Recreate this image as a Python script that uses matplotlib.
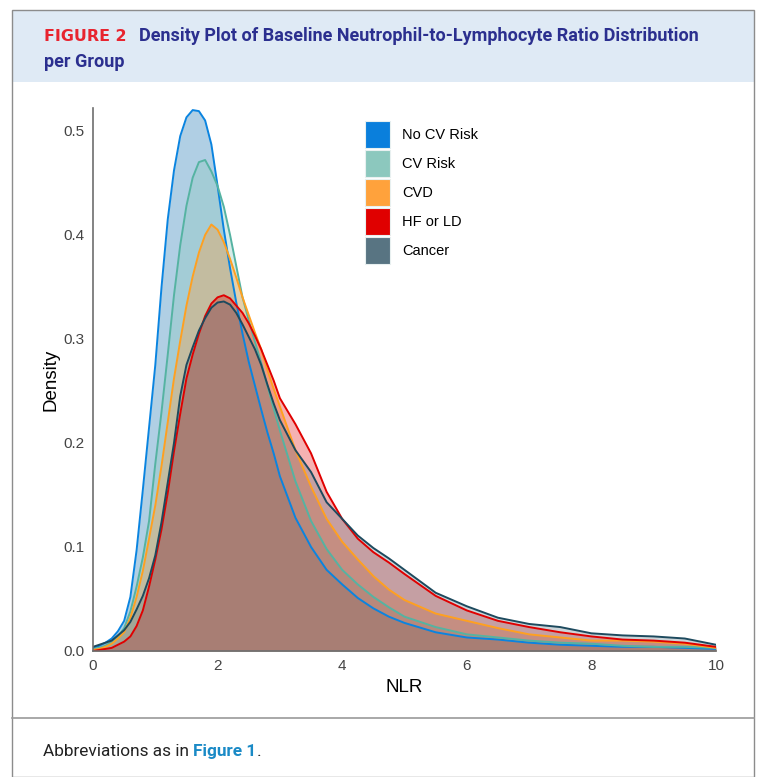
import numpy as np
import matplotlib
matplotlib.use('Agg')
import matplotlib.pyplot as plt
from matplotlib.patches import Rectangle, Patch

# NLR grid and densities
nlr = [0.0, 0.1, 0.2, 0.3, 0.4, 0.5, 0.6, 0.7, 0.8, 0.9,
       1.0, 1.1, 1.2, 1.3, 1.4, 1.5, 1.6, 1.7, 1.8, 1.9,
       2.0, 2.1, 2.2, 2.3, 2.4, 2.5, 2.6, 2.7, 2.8, 2.9,
       3.0, 3.25, 3.5, 3.75, 4.0, 4.25, 4.5, 4.75, 5.0,
       5.5, 6.0, 6.5, 7.0, 7.5, 8.0, 8.5, 9.0, 9.5, 10.0]

no_cv_risk = [0.003, 0.005, 0.008, 0.012, 0.019, 0.029, 0.052, 0.097, 0.155, 0.215,
              0.275, 0.35, 0.415, 0.462, 0.495, 0.513, 0.52, 0.519, 0.51, 0.487,
              0.447, 0.405, 0.368, 0.335, 0.305, 0.278, 0.255, 0.232, 0.21, 0.19,
              0.168, 0.128, 0.1, 0.078, 0.064, 0.051, 0.041, 0.033, 0.027,
              0.018, 0.013, 0.011, 0.008, 0.006, 0.005, 0.004, 0.004, 0.003, 0.002]

cv_risk = [0.002, 0.003, 0.005, 0.009, 0.014, 0.022, 0.038, 0.062, 0.09, 0.125,
           0.18, 0.23, 0.285, 0.342, 0.39, 0.428, 0.455, 0.47, 0.472, 0.461,
           0.447, 0.427, 0.4, 0.37, 0.34, 0.318, 0.297, 0.277, 0.255, 0.233,
           0.212, 0.163, 0.125, 0.098, 0.078, 0.064, 0.052, 0.042, 0.033,
           0.023, 0.016, 0.013, 0.01, 0.008, 0.007, 0.005, 0.004, 0.004, 0.003]

cvd = [0.001, 0.002, 0.004, 0.007, 0.012, 0.018, 0.032, 0.052, 0.077, 0.108,
       0.14, 0.178, 0.22, 0.262, 0.298, 0.332, 0.36, 0.383, 0.4, 0.41,
       0.405, 0.393, 0.377, 0.359, 0.34, 0.323, 0.306, 0.29, 0.27, 0.252,
       0.235, 0.193, 0.158, 0.127, 0.105, 0.088, 0.072, 0.059, 0.049,
       0.036, 0.029, 0.022, 0.016, 0.013, 0.01, 0.01, 0.009, 0.007, 0.003]

hf_or_ld = [0.0, 0.001, 0.002, 0.003, 0.006, 0.009, 0.014, 0.024, 0.039, 0.062,
            0.088, 0.117, 0.152, 0.192, 0.228, 0.262, 0.285, 0.305, 0.322, 0.334,
            0.34, 0.342, 0.339, 0.332, 0.325, 0.315, 0.303, 0.29, 0.275, 0.26,
            0.243, 0.218, 0.19, 0.153, 0.127, 0.108, 0.095, 0.085, 0.074,
            0.053, 0.039, 0.029, 0.023, 0.018, 0.014, 0.011, 0.01, 0.008, 0.004]

cancer = [0.004, 0.006, 0.008, 0.01, 0.015, 0.02, 0.028, 0.04, 0.053, 0.07,
          0.092, 0.124, 0.162, 0.2, 0.245, 0.275, 0.292, 0.308, 0.32, 0.33,
          0.335, 0.336, 0.333, 0.325, 0.314, 0.302, 0.29, 0.275, 0.256, 0.238,
          0.222, 0.193, 0.172, 0.143, 0.127, 0.111, 0.099, 0.089, 0.078,
          0.056, 0.043, 0.032, 0.026, 0.023, 0.017, 0.015, 0.014, 0.012, 0.006]

groups = ['No CV Risk', 'CV Risk', 'CVD', 'HF or LD', 'Cancer']
series = [no_cv_risk, cv_risk, cvd, hf_or_ld, cancer]
line_colors = ['#0a84e0', '#55b3a2', '#ffa020', '#e00000', '#1d4a5e']
fill_colors = ['#1f77b4', '#8cc8be', '#ffa03c', '#e00000', '#587482']
fill_alpha = [0.35, 0.35, 0.35, 0.3, 0.3]
patch_colors = ['#0a7fdc', '#8cc8be', '#ffa23c', '#e00000', '#587482']

W, H = 758, 777
fig = plt.figure(figsize=(W / 100, H / 100), dpi=100)
r = fig.canvas.get_renderer()

def fx(px):
    return px / W

def fy(py):
    return 1 - py / H

def fit_text(x, y, s, width, **kw):
    # shrink/grow font so the text spans the given pixel width
    t = fig.text(x, y, s, **kw)
    w = t.get_window_extent(r).width
    t.set_fontsize(t.get_fontsize() * width / w)
    return t

# frame, header band, footer line
fig.patches.append(Rectangle((fx(12), fy(82)), fx(742), 72 / H, transform=fig.transFigure,
                             facecolor='#dfeaf5', edgecolor='none', zorder=0))
fig.patches.append(Rectangle((fx(12), 0), fx(742), fy(10), transform=fig.transFigure,
                             facecolor='none', edgecolor='#8c8c8c', lw=1.0, zorder=1))
fig.add_artist(plt.Line2D([fx(12), fx(754)], [fy(718), fy(718)], transform=fig.transFigure,
                          color='#9a9a9a', lw=1.2))

title_font = 'Roboto'
fit_text(fx(44), fy(41), 'FIGURE 2', 82, color='#e8242f', fontsize=11, fontweight='bold',
         family='DejaVu Sans', va='baseline')
tt = fit_text(fx(139), fy(41), 'Density Plot of Baseline Neutrophil-to-Lymphocyte Ratio Distribution',
              556, color='#2b2f8f', fontsize=12, fontweight='bold', family=title_font,
              va='baseline')
fig.text(fx(44), fy(67), 'per Group', color='#2b2f8f', fontsize=tt.get_fontsize(),
         fontweight='bold', family=title_font, va='baseline')

ax = fig.add_axes([fx(93), fy(651), fx(716) - fx(93), (651 - 108) / H])

x = np.array(nlr)
for name, y, lc, fc, a in zip(groups, series, line_colors, fill_colors, fill_alpha):
    y = np.array(y)
    ax.fill_between(x, 0, y, color=fc, alpha=a, lw=0)
    ax.plot(x, y, color=lc, lw=1.4)

ax.set_xlim(0, 10)
ax.set_ylim(0, 0.522)
ax.set_xticks([0, 2, 4, 6, 8, 10])
ax.set_yticks([0.0, 0.1, 0.2, 0.3, 0.4, 0.5])
ax.set_yticklabels(['0.0', '0.1', '0.2', '0.3', '0.4', '0.5'])
ax.tick_params(length=0, pad=6, labelsize=11, labelcolor='#444444')
for t in ax.get_xticklabels() + ax.get_yticklabels():
    t.set_family('Liberation Sans')
for s in ['top', 'right']:
    ax.spines[s].set_visible(False)
for s in ['left', 'bottom']:
    ax.spines[s].set_color('#6e6e6e')
    ax.spines[s].set_linewidth(1.2)
ax.set_xlabel('NLR', fontsize=13.5, family='Liberation Sans', labelpad=4)
ax.set_ylabel('Density', fontsize=13.5, family='Liberation Sans', labelpad=3)

handles = [Patch(facecolor=c, edgecolor='#e8f0f0', lw=0.8) for c in patch_colors]
fig.legend(handles, groups, loc='upper left', bbox_to_anchor=(fx(365), fy(121)),
           frameon=False, borderpad=0, prop={'family': 'Liberation Sans', 'size': 10.5},
           handlelength=1.72, handleheight=2.45, labelspacing=0.15, handletextpad=0.82,
           borderaxespad=0)

# footer
t1 = fit_text(fx(43), fy(756), 'Abbreviations as in ', 150, color='#222222', fontsize=12,
              family=title_font, va='baseline')
bb = t1.get_window_extent(r)
t2 = fig.text(bb.x1 / W, fy(756), 'Figure 1', color='#1a8ac6', fontsize=t1.get_fontsize(),
              fontweight='bold', family=title_font, va='baseline')
bb2 = t2.get_window_extent(r)
fig.text(bb2.x1 / W, fy(756), '.', color='#222222', fontsize=t1.get_fontsize(),
         family=title_font, va='baseline')

fig.savefig('out.png', dpi=100)
